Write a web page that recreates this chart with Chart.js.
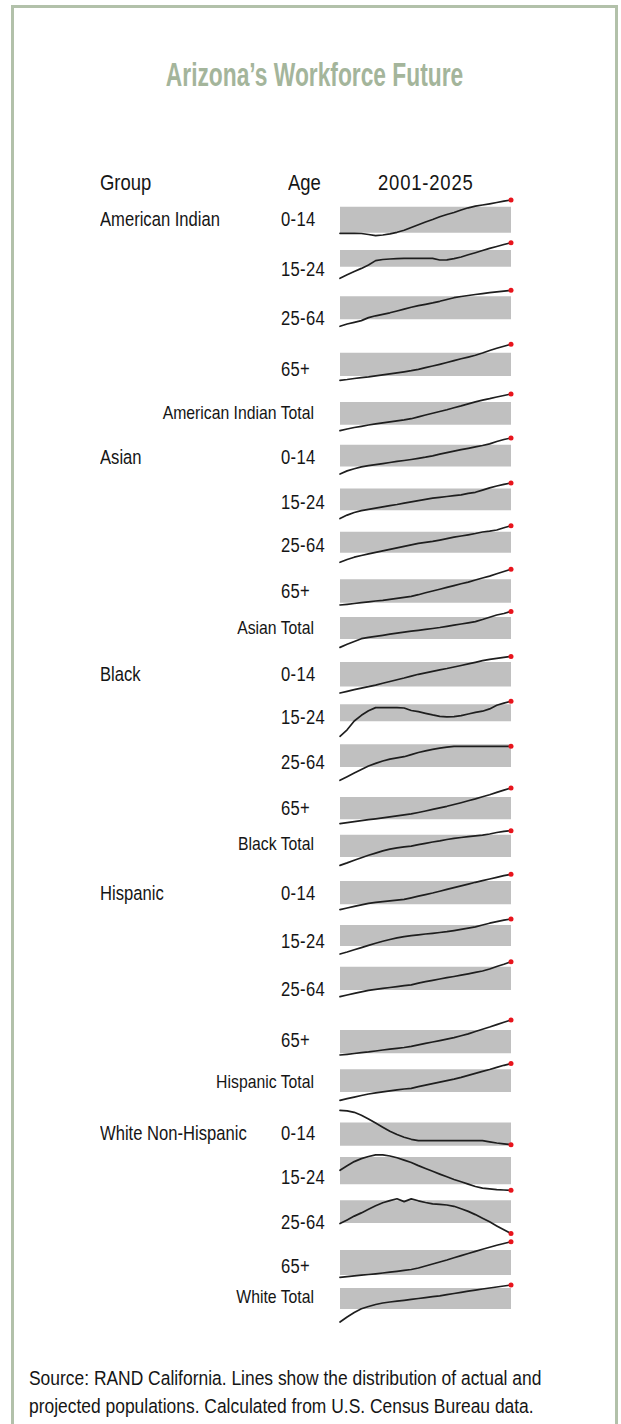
<!DOCTYPE html>
<html><head><meta charset="utf-8">
<script src="https://cdn.jsdelivr.net/npm/chart.js@4.4.1/dist/chart.umd.min.js"></script>
<style>
html,body{margin:0;padding:0;background:#fff;}
body{width:621px;height:1424px;position:relative;overflow:hidden;font-family:"Liberation Sans",Arial,sans-serif;color:#151515;}
#frame{position:absolute;left:11px;top:5px;width:601px;height:1500px;border:3px solid #b2c1aa;}
.t{position:absolute;white-space:nowrap;line-height:24px;height:24px;transform:scaleX(0.81);transform-origin:0 50%;}
#title{position:absolute;left:0;width:629px;text-align:center;top:56px;line-height:38px;font-size:33px;font-weight:bold;color:#a4b59b;transform:scaleX(0.69);transform-origin:314.5px 50%;white-space:nowrap;}
.hdr{font-size:22.5px;transform:scaleX(0.82);}
.grp{font-size:20.5px;left:100px;}
.age{font-size:20.5px;left:281px;letter-spacing:0.4px;}
.tot{font-size:19px;left:0;width:314px;text-align:right;transform:scaleX(0.83);transform-origin:314px 50%;}
.src{position:absolute;left:29px;font-size:20.5px;line-height:28px;white-space:nowrap;transform:scaleX(0.85);transform-origin:0 50%;}
.spark{position:absolute;left:336px;width:179px;height:78px;}
</style></head><body>
<div id="frame"></div>
<div id="title">Arizona’s Workforce Future</div>
<div id="labels"></div>
<div id="charts"></div>
<div class="src" style="top:1364px">Source: RAND California. Lines show the distribution of actual and</div>
<div class="src" style="top:1392px">projected populations. Calculated from U.S. Census Bureau data.</div>
<script>
// ---------- data ----------
const years = ['2001','2002','2003','2004','2005','2006','2007','2008','2009','2010','2011','2012','2013',
  '2014','2015','2016','2017','2018','2019','2020','2021','2022','2023','2024','2025'];
const headers = ['Group','Age','2001-2025'];
const groups = ['American Indian','Asian','Black','Hispanic','White Non-Hispanic'];
const ages = ['0-14','15-24','25-64','65+'];
const totals = ['American Indian Total','Asian Total','Black Total','Hispanic Total','White Total'];

// relative population level per year (sparkline units)
const aiAge0_14  = [15.7,15.7,15.6,15.5,14.5,13.4,14,15.2,16.7,18.7,21.5,24.3,27,29.5,32.2,34.5,36.5,39,41.2,42.8,44,45.2,46.5,47.8,49];
const aiAge15_24 = [20.7,24.2,27.5,30.6,34,38.4,39.5,40,40.4,40.7,40.7,40.7,40.6,40.6,39,39.2,40.4,42,44.2,46.3,48.5,50.6,52.5,54.5,56.3];
const aiAge25_64 = [21.7,24,25.7,27.4,30.4,32.2,33.7,35.2,37,38.9,40.7,42.4,43.7,45.1,46.7,48.5,50.3,51.5,52.5,53.5,54.4,55.3,56.1,56.9,57.7];
const aiAge65    = [18.7,19.5,20.5,21.4,22.1,23.1,24.1,25.1,26.2,27.2,28.3,29.7,31.3,33,34.7,36.5,38.4,40.2,41.9,43.7,46,48.5,50.7,52.8,54.8];
const aiTotal    = [12.3,14,15.5,16.7,18,19.1,20.1,21.1,22.1,23.1,24.3,26.1,28,29.8,31.5,33.3,35.3,37.1,39.1,41.1,42.8,44.3,46,47.5,49];
const asAge0_14  = [13,16.1,18.2,20.1,21.3,22.3,23.4,24.5,25.6,26.5,27.5,28.6,29.8,31.2,32.8,34.3,35.8,37.3,38.7,40.1,41.5,43.1,45.5,47.5,49];
const asAge15_24 = [13.4,16.9,19.5,21.4,22.6,23.8,25.1,26.4,27.5,28.9,30.2,31.4,32.6,33.8,34.7,35.5,36.3,37.1,38.6,39.7,41.9,44.1,46,47.7,49];
const asAge25_64 = [12.7,15.5,17.8,19.5,21.1,22.7,24.2,25.7,27.2,28.7,30.2,31.7,32.7,33.6,34.9,36.3,37.8,39,40.2,41.5,43,43.8,45,47.2,49.3];
const asAge65    = [16,16.7,17.5,18.3,19.1,20,20.7,21.6,22.6,23.6,24.6,26.3,28.2,30,31.8,33.6,35.4,37.2,38.9,41,43,44.9,47.2,49.5,51.7];
const asTotal    = [10.6,13.7,16.5,19.3,20.7,21.7,22.7,23.8,24.8,25.8,26.8,27.7,28.6,29.5,30.5,31.7,32.9,34,35.2,36.4,38.5,40.8,43,44.5,46.6];
const blAge0_14  = [11,12.7,14.3,15.9,17.3,18.9,20.7,22.5,24.3,26,27.9,29.7,31.2,32.7,34.2,35.5,37,38.5,40.1,41.7,43.3,44.7,45.7,46.7,47.6];
const blAge15_24 = [10.7,17.2,26,31.7,36.2,39.4,39.4,39.4,39.4,39,36.5,35.3,33.7,32.1,30.7,30.1,30.4,31.4,33,34.7,35.8,38.1,41.7,43.9,45.7];
const blAge25_64 = [11.7,15.3,18.9,22.5,26,28.6,31,32.9,34.1,35.3,37.4,39.5,41.1,42.6,43.9,44.8,45.7,45.7,45.7,45.7,45.7,45.7,45.7,45.7,45.7];
const blAge65    = [14.4,15.3,16.3,17.3,18.3,19.2,20.2,21.1,22.1,23.1,24.1,25.5,27,28.6,30.2,31.7,33.5,35.3,37.2,39.1,41.2,43.3,45.6,47.9,50];
const blTotal    = [8.6,11.1,13.8,16.3,18.8,20.9,23.1,24.8,26.1,27.2,27.9,29.3,30.7,32,33.1,34.5,35.6,36.5,37.3,38.1,38.9,40,41.5,42.7,43.3];
const hiAge0_14  = [13.4,15,16.6,18.1,19.7,20.6,21.4,22.1,22.8,23.6,25.2,26.8,28.4,30,31.8,33.6,35.4,37.1,38.9,40.7,42.3,44,45.7,47.3,48.7];
const hiAge15_24 = [17,19,21.2,23.4,25.6,27.7,29.7,31.5,33.1,34.4,35.4,36.2,37,37.7,38.5,39.3,40.4,41.6,42.8,44.1,46,47.8,49.3,50.8,52];
const hiAge25_64 = [22.3,24,25.6,27.2,28.6,29.7,30.6,31.5,32.4,33.3,34.2,35.9,37.3,38.6,40,41.3,42.5,43.8,45.2,46.6,48,50,52.5,54.8,57.3];
const hiAge65    = [15,15.7,16.5,17.4,18.1,19,20,20.8,21.6,22.5,23.6,25.1,26.6,28,29.4,30.9,32.4,34.2,36.1,38.5,40.8,43,45.4,47.8,50];
const hiTotal    = [11.7,13.3,14.9,16.5,18,19.1,20.1,21.2,22.1,23,23.7,25.3,26.8,28.3,29.9,31.4,32.9,34.6,36.6,38.6,40.6,42.5,44.6,46.7,48.4];
const whAge0_14  = [52.6,52.1,50.7,47.8,44.1,40,35.8,31.8,28.5,25.8,23.7,22.3,22.3,22.3,22.3,22.3,22.3,22.3,22.3,22.3,22.3,21.2,20,19.1,18.3];
const whAge15_24 = [36.7,41.2,45.4,48.4,50.5,52.2,52.2,51,49.2,46.9,44.5,41.4,38.5,35.7,32.9,30.2,27.5,25.2,22.9,20.5,18.9,18.1,17.4,17,16.7];
const whAge25_64 = [28.4,32.1,35.9,39.1,42.7,46.2,49.2,51.4,53.2,50.4,53.1,51.2,49.5,48.2,47.6,47,45.7,43.2,40.6,37.4,33.8,30.2,26.1,22.2,18.4];
const whAge65    = [18.7,19.4,20.1,20.8,21.5,22.2,23,23.8,24.7,25.7,26.5,28,30,32,34,36,38.2,40.4,42.5,44.6,46.7,48.7,50.7,52.5,54.3];
const whTotal    = [5,10,14.5,18.2,20.5,22.5,24,25,25.8,26.7,27.6,28.5,29.4,30.3,31.2,32.4,33.5,34.7,35.8,36.9,38,39,40,41,42];

// gray normal-range band per row (same units)
const bandLow  = [16.3,32.3,28.7,23,18.3, 20.6,21.7,22.3,18.3,19, 17.6,25.7,25,18.7,17, 18.7,25,29,16.7,20, 17.3,22.7,29,21,18];
const bandHigh = [42.3,49,51.7,46.3,41, 42.3,43.4,43.3,41.7,41, 42,42.7,47.7,41,39.3, 42,46,52.3,40,42.7, 40.6,50,51.7,46,39];

const seriesList = [aiAge0_14,aiAge15_24,aiAge25_64,aiAge65,aiTotal,
  asAge0_14,asAge15_24,asAge25_64,asAge65,asTotal,
  blAge0_14,blAge15_24,blAge25_64,blAge65,blTotal,
  hiAge0_14,hiAge15_24,hiAge25_64,hiAge65,hiTotal,
  whAge0_14,whAge15_24,whAge25_64,whAge65,whTotal];

// ---------- layout (row centre lines, px) ----------
const rowCenters = [219,269,317.7,369,413.3, 457.3,501.7,545,591,628.3, 674.3,716.7,761.7,807.7,844.3,
  892.7,941,989,1040,1081.7, 1133.3,1176.7,1221.7,1266,1297];
const headerY = 183;
const headerX = [100,288,378];

const labelsDiv = document.getElementById('labels');
function addText(cls, txt, top, extra){
  const d = document.createElement('div');
  d.className = 't ' + cls;
  d.textContent = txt;
  d.style.top = (top - 12) + 'px';
  if (extra) Object.assign(d.style, extra);
  labelsDiv.appendChild(d);
  return d;
}
headers.forEach((h,i)=>addText('hdr', h, headerY, {left: headerX[i]+'px', letterSpacing: i===2 ? '1px' : '0'}));
groups.forEach((g,gi)=>{
  const base = gi*5;
  addText('grp', g, rowCenters[base]);
  ages.forEach((a,ai)=>addText('age', a, rowCenters[base+ai]));
  addText('tot', totals[gi], rowCenters[base+4]);
});

const chartsDiv = document.getElementById('charts');
const last = years.length - 1;
seriesList.forEach((series, r)=>{
  const wrap = document.createElement('div');
  wrap.className = 'spark';
  wrap.style.top = (rowCenters[r] - 44) + 'px';
  const cv = document.createElement('canvas');
  cv.width = 179; cv.height = 78;
  wrap.appendChild(cv);
  chartsDiv.appendChild(wrap);
  new Chart(cv, {
    type: 'line',
    data: {
      labels: years,
      datasets: [
        {data: series, borderColor: '#1e1e1e', borderWidth: 1.7, tension: 0, fill: false, order: 0, clip: false,
         borderJoinStyle: 'round', borderCapStyle: 'round',
         pointRadius: c => c.dataIndex === last ? 2.5 : 0, pointBackgroundColor: '#e8141c', pointBorderWidth: 0},
        {data: [{x: years[0], y: bandHigh[r]}, {x: years[last], y: bandHigh[r]}],
         borderWidth: 0, borderColor: 'rgba(0,0,0,0)', pointRadius: 0, backgroundColor: '#c0c0c0', fill: '+1', order: 1},
        {data: [{x: years[0], y: bandLow[r]}, {x: years[last], y: bandLow[r]}],
         borderWidth: 0, borderColor: 'rgba(0,0,0,0)', pointRadius: 0, fill: false, order: 2}
      ]
    },
    options: {
      responsive: false, animation: false, events: [],
      layout: {padding: {left: 4, right: 4, top: 4, bottom: 4}},
      plugins: {legend: {display: false}, tooltip: {enabled: false}, title: {display: false}},
      scales: {
        x: {type: 'category', display: false, offset: false},
        y: {display: false, min: 0, max: 70}
      }
    }
  });
});
</script>
</body></html>
